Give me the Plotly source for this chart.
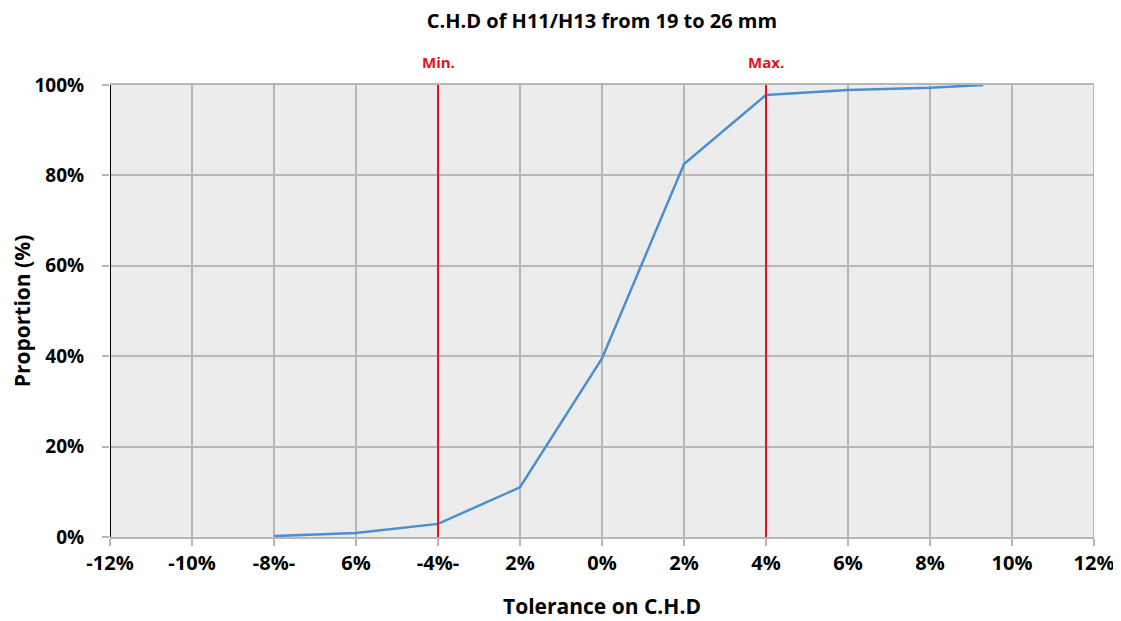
import plotly.graph_objects as go

tolerance = [-8, -6, -4, -2, 0, 2, 4, 6, 8, 9.3]
proportion = [0.2, 0.9, 2.9, 11.0, 39.5, 82.5, 97.8, 98.9, 99.4, 100.0]

x_tickvals = [-12, -10, -8, -6, -4, -2, 0, 2, 4, 6, 8, 10, 12]
x_ticktext = ["-12%", "-10%", "-8%-", "6%", "-4%-", "2%", "0%", "2%", "4%", "6%", "8%", "10%", "12%"]
y_tickvals = [0, 20, 40, 60, 80, 100]
y_ticktext = ["0%", "20%", "40%", "60%", "80%", "100%"]

limits = [-4, 4]
limit_labels = ["Min.", "Max."]

FONT = "Open Sans"
grid = "#b7b7b7"

fig = go.Figure()
fig.add_trace(go.Scatter(x=tolerance, y=proportion, mode="lines",
                         line=dict(color="#4b8fd1", width=2.5), showlegend=False,
                         hoverinfo="skip"))

for lim, lab in zip(limits, limit_labels):
    fig.add_shape(type="line", xref="x", yref="y", x0=lim, x1=lim, y0=0, y1=100,
                  line=dict(color="#e8101a", width=2), layer="above")
    fig.add_annotation(x=lim, y=1, xref="x", yref="paper", yshift=11, yanchor="bottom",
                       text="<b>" + lab + "</b>", showarrow=False,
                       font=dict(family=FONT, size=15, color="#e8101a"))

fig.update_layout(
    width=1113, height=613,
    margin=dict(l=102, r=27, t=77, b=84),
    paper_bgcolor="white", plot_bgcolor="#ececec",
    title=dict(text="<b>C.H.D of H11/H13 from 19 to 26 mm</b>", x=0.5, xref="paper",
               xanchor="center", y=1 - 13 / 613, yref="container", yanchor="middle",
               font=dict(family=FONT, size=20, color="black")),
    font=dict(family=FONT, color="black"),
    xaxis=dict(range=[-12, 12], tickvals=x_tickvals, ticktext=x_ticktext,
               automargin=False,
               showgrid=True, gridcolor=grid, gridwidth=2, zeroline=False,
               ticks="outside", ticklen=7, tickcolor=grid, tickwidth=2,
               showline=True, linecolor=grid, linewidth=2, mirror=True,
               tickfont=dict(family=FONT, size=20, color="black", weight="bold"),
               title=dict(text="<b>Tolerance on C.H.D</b>", standoff=24,
                          font=dict(family=FONT, size=21, color="black"))),
    yaxis=dict(range=[0, 100], tickvals=y_tickvals, ticktext=y_ticktext,
               automargin=False,
               showgrid=True, gridcolor=grid, gridwidth=2, zeroline=False,
               ticks="outside", ticklen=7, tickcolor=grid, tickwidth=2,
               showline=False, ticklabelstandoff=14,
               tickfont=dict(family=FONT, size=19, color="black", weight="bold"),
               title=dict(text="<b>Proportion (%)</b>", standoff=4,
                          font=dict(family=FONT, size=21, color="black"))),
)

fig.add_shape(type="line", xref="x", yref="y", x0=-12, x1=-12, y0=-1.3, y1=100,
              line=dict(color="black", width=2), layer="above")
fig.add_shape(type="line", xref="x", yref="y", x0=12, x1=12, y0=0, y1=100,
              line=dict(color=grid, width=2), layer="above")

fig.write_html("out.html")
